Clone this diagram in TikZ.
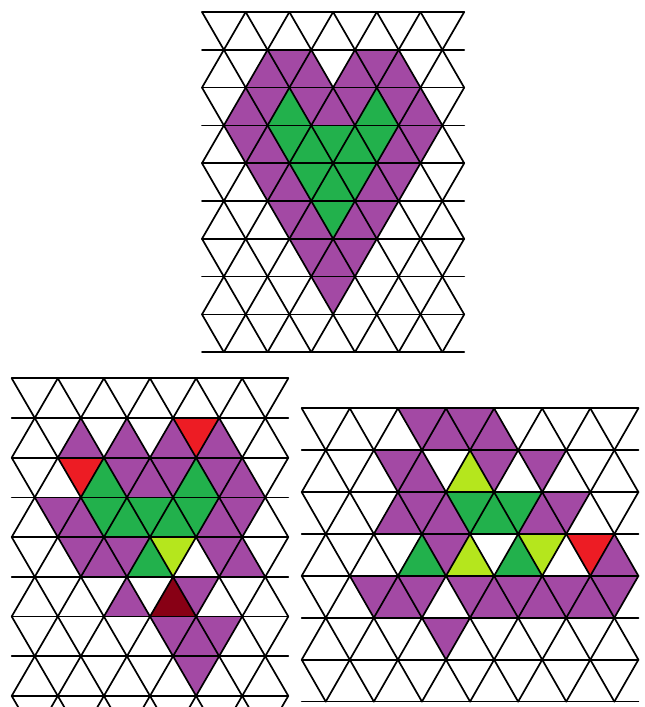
\documentclass[tikz,border=0pt]{standalone}
\usepackage{tikz}

\definecolor{plum}{HTML}{A349A4}
\definecolor{leaf}{HTML}{22B14C}
\definecolor{lemon}{HTML}{B5E61D}
\definecolor{flame}{HTML}{ED1C24}
\definecolor{wine}{HTML}{880015}

% fill the triangle in column #2 of row #3
\newcommand{\tfill}[3]{%
  \ifodd\numexpr#2+#3\relax
    \fill[#1] (#2-1,#3) -- (#2+1,#3) -- (#2,#3+1) -- cycle;
  \else
    \fill[#1] (#2,#3) -- (#2-1,#3+1) -- (#2+1,#3+1) -- cycle;
  \fi}

% triangle grid, #1 half sides wide, #2 rows
\newcommand{\tgrid}[2]{%
  \foreach \row in {0,...,#2} {\draw[gridline] (0,\row) -- (#1,\row);}
  \foreach \row in {1,...,#2}{
    \foreach \k in {1,...,#1}{
      \ifodd\numexpr\k+\row\relax
        \draw[gridline] (\k,\row-1) -- (\k-1,\row);
      \else
        \draw[gridline] (\k-1,\row-1) -- (\k,\row);
      \fi}}}

\begin{document}
\begin{tikzpicture}[x=1pt,y=-1pt,gridline/.style={black,line width=1.7pt,line cap=round}]
\useasboundingbox (0,0) rectangle (645,707);
\clip (0,0) rectangle (645,707);

% heart
\begin{scope}[shift={(202,12)},x={(21.85pt,0pt)},y={(0pt,-37.8pt)}]
\foreach \col/\row/\hue in {3/1/plum,4/1/plum,5/1/plum,7/1/plum,8/1/plum,9/1/plum,
  2/2/plum,3/2/plum,4/2/leaf,5/2/plum,6/2/plum,7/2/plum,8/2/leaf,9/2/plum,10/2/plum,
  2/3/plum,3/3/plum,4/3/leaf,5/3/leaf,6/3/leaf,7/3/leaf,8/3/leaf,9/3/plum,10/3/plum,
  3/4/plum,4/4/plum,5/4/leaf,6/4/leaf,7/4/leaf,8/4/plum,9/4/plum,
  4/5/plum,5/5/plum,6/5/leaf,7/5/plum,8/5/plum,
  5/6/plum,6/6/plum,7/6/plum,6/7/plum}
  {\tfill{\hue}{\col}{\row}}
\tgrid{12}{9}
\end{scope}

% left
\begin{scope}[shift={(11.7,378.3)},x={(23.05pt,0pt)},y={(0pt,-39.7pt)}]
\foreach \col/\row/\hue in {3/1/plum,5/1/plum,7/1/plum,8/1/flame,9/1/plum,
  3/2/flame,4/2/leaf,5/2/plum,6/2/plum,7/2/plum,8/2/leaf,9/2/plum,10/2/plum,
  2/3/plum,3/3/plum,4/3/leaf,5/3/leaf,6/3/leaf,7/3/leaf,8/3/leaf,9/3/plum,10/3/plum,
  3/4/plum,4/4/plum,5/4/plum,6/4/leaf,7/4/lemon,9/4/plum,10/4/plum,
  5/5/plum,7/5/wine,8/5/plum,
  7/6/plum,8/6/plum,9/6/plum,8/7/plum}
  {\tfill{\hue}{\col}{\row}}
\tgrid{12}{9}
\end{scope}

% right
\begin{scope}[shift={(301.7,408.3)},x={(24.05pt,0pt)},y={(0pt,-41.9pt)}]
\foreach \col/\row/\hue in {5/0/plum,6/0/plum,7/0/plum,8/0/plum,
  4/1/plum,5/1/plum,7/1/lemon,8/1/plum,10/1/plum,
  4/2/plum,5/2/plum,6/2/plum,7/2/leaf,8/2/leaf,9/2/leaf,10/2/plum,11/2/plum,
  5/3/leaf,6/3/plum,7/3/lemon,9/3/leaf,10/3/lemon,12/3/flame,13/3/plum,
  3/4/plum,4/4/plum,5/4/plum,7/4/plum,8/4/plum,9/4/plum,10/4/plum,11/4/plum,12/4/plum,13/4/plum,
  6/5/plum}
  {\tfill{\hue}{\col}{\row}}
\tgrid{14}{7}
\end{scope}
\end{tikzpicture}
\end{document}
